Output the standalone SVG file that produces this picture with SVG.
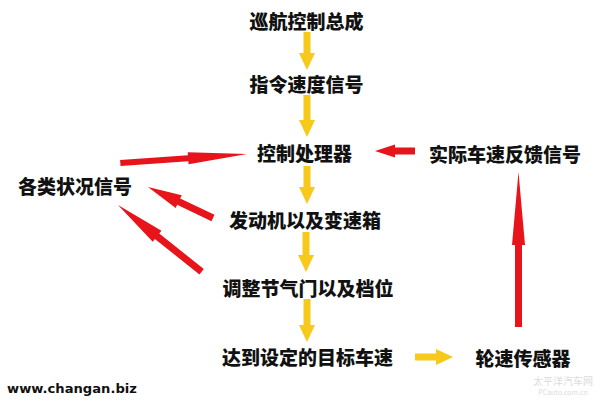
<svg xmlns="http://www.w3.org/2000/svg" width="600" height="401" viewBox="0 0 600 401">
<style>
.t{font-family:"Noto Sans CJK SC","Noto Sans",sans-serif;font-size:19px;font-weight:900;fill:#111;text-anchor:middle;dominant-baseline:central}
.y{fill:#f7c91a}
.r{fill:#e8141b}
.wm{font-family:"Noto Sans CJK SC","DejaVu Sans",sans-serif;fill:#dcdcdc;text-anchor:middle}
</style>
<rect width="600" height="401" fill="#fff"/>
<g id="connectors">
<path class="y" d="M303.5,32 H310.5 V53 H315 L307,70 L299,53 H303.5 Z"/>
<path class="y" d="M303.5,95 H310.5 V120 H315 L307,137 L299,120 H303.5 Z"/>
<path class="y" d="M303.5,166 H310.5 V187 H315 L307,204 L299,187 H303.5 Z"/>
<path class="y" d="M302.5,232 H309.5 V255 H314 L306,272 L298,255 H302.5 Z"/>
<path class="y" d="M303.5,299 H310.5 V325 H315 L307,342 L299,325 H303.5 Z"/>
<path class="y" d="M415,353.5 H436 V349 L453,357 L436,365 V360.5 H415 Z"/>
<path class="r" d="M415,147.5 H395 V144.5 L375,151 L395,157.5 V154.5 H415 Z"/>
<path class="r" d="M515,327 V245 H512 L518.5,172 L525,245 H522 V327 Z"/>
<path class="r" transform="translate(247,154) rotate(-4.05)" d="M-127,-3 H-59 V-6 L0,0 L-59,6 V3 H-127 Z"/>
<path class="r" transform="translate(148,187) rotate(-154.5)" d="M-72,-3.5 H-34 V-7 L0,0 L-34,7 V3.5 H-72 Z"/>
<path class="r" transform="translate(118,205) rotate(-141.4)" d="M-107,-3.5 H-50 V-7 L0,0 L-50,7 V3.5 H-107 Z"/>
</g>
<g id="n1"><text class="t" x="306.5" y="20">巡航控制总成</text></g>
<g id="n2"><text class="t" x="306.5" y="83">指令速度信号</text></g>
<g id="n3"><text class="t" x="304.5" y="152">控制处理器</text></g>
<g id="n4"><text class="t" x="305" y="219">发动机以及变速箱</text></g>
<g id="n5"><text class="t" x="308" y="287">调整节气门以及档位</text></g>
<g id="n6"><text class="t" x="307.5" y="356">达到设定的目标车速</text></g>
<g id="n7"><text class="t" x="523" y="357">轮速传感器</text></g>
<g id="n8"><text class="t" x="75" y="185">各类状况信号</text></g>
<g id="n9"><text class="t" x="505" y="153">实际车速反馈信号</text></g>
<text x="7" y="393" font-family="DejaVu Sans,sans-serif" font-weight="bold" font-size="13" fill="#111" textLength="130" lengthAdjust="spacingAndGlyphs">www.changan.biz</text>
<text class="wm" x="563" y="385" font-size="10">太平洋汽车网</text>
<text class="wm" x="563" y="395" font-size="7">PCauto.com.cn</text>
</svg>
